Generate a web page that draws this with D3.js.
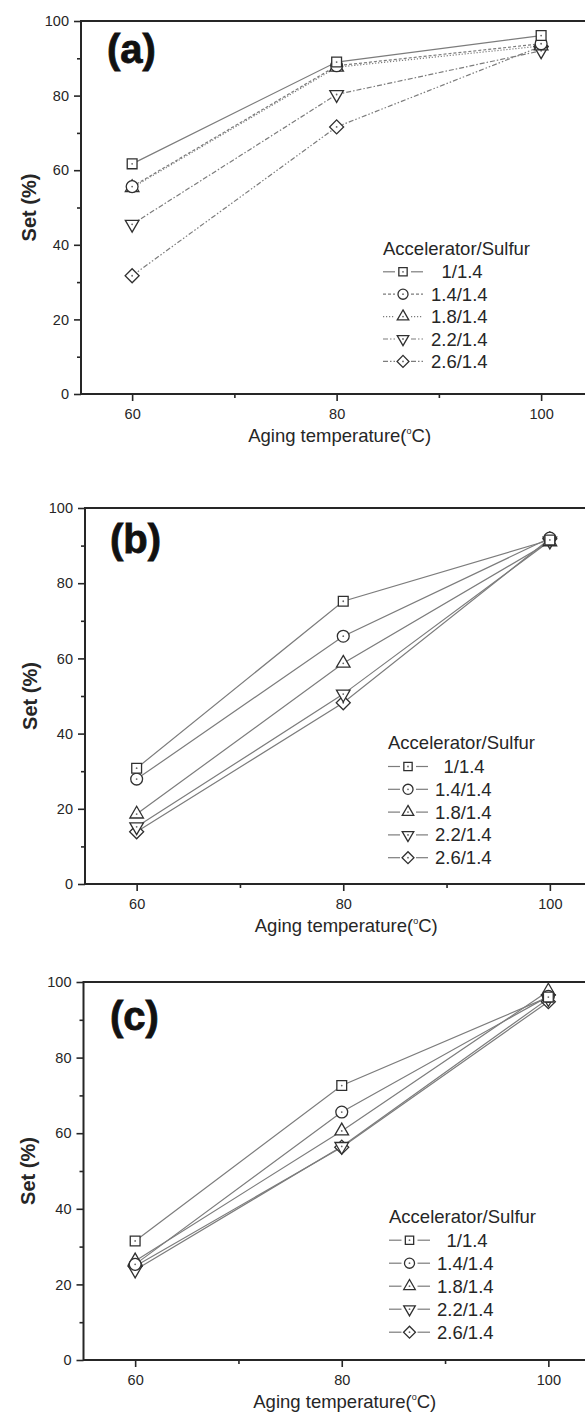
<!DOCTYPE html>
<html>
<head>
<meta charset="utf-8">
<script src="https://cdn.jsdelivr.net/npm/d3@7/dist/d3.min.js"></script>
<style>
  html, body { margin: 0; padding: 0; background: #fff; }
  svg { display: block; font-family: "Liberation Sans", Arial, sans-serif; }
</style>
</head>
<body>
<svg id="fig" width="585" height="1418"></svg>
<script>
// Aging temperature (°C) on the x axis
const temperatures = [60, 80, 100];
// Accelerator/Sulfur ratios, one series per ratio
const ratios = ["1/1.4", "1.4/1.4", "1.8/1.4", "2.2/1.4", "2.6/1.4"];

// Set (%) per ratio at 60, 80, 100 °C
const setA = [
  [61.7, 89.0, 96.1],
  [55.6, 88.0, 93.9],
  [55.3, 87.6, 93.3],
  [45.5, 80.3, 92.0],
  [31.7, 71.6, 93.2]
];
const setB = [
  [30.8, 75.2, 91.5],
  [27.9, 65.9, 92.0],
  [18.6, 58.7, 91.0],
  [15.2, 50.5, 91.2],
  [13.9, 48.2, 91.8]
];
const setC = [
  [31.5, 72.6, 96.0],
  [25.3, 65.6, 96.2],
  [26.2, 60.6, 97.6],
  [23.8, 56.5, 95.6],
  [24.8, 56.3, 94.8]
];

const panelLabels = ["(a)", "(b)", "(c)"];
const yTicks = [0, 20, 40, 60, 80, 100];
const yMinorTicks = [10, 30, 50, 70, 90];
const xTicks = [60, 80, 100];
const xMinorTicks = [70, 90];
const legendTitle = "Accelerator/Sulfur";
const yTitle = "Set (%)";

// Layout of each panel on the page
const panels = [
  { data: setA, left: 81, unit: 10.225, top: 21, bottom: 394, tag: { x: 107, y: 63 },
    yTitleX: 29, leg: { x: 383, titleY: 255, firstY: 278.3, step: 22.4, lineW: 40, textX: 431, firstTextX: 441.5 },
    dashed: true },
  { data: setB, left: 85, unit: 10.33, top: 508, bottom: 884, tag: { x: 110, y: 553 },
    yTitleX: 30, leg: { x: 388, titleY: 749, firstY: 773, step: 22.8, lineW: 40, textX: 435, firstTextX: 443.5 },
    dashed: false },
  { data: setC, left: 83.5, unit: 10.33, top: 982, bottom: 1360, tag: { x: 110, y: 1030 },
    yTitleX: 28, leg: { x: 389, titleY: 1223, firstY: 1246.7, step: 23, lineW: 41, textX: 437, firstTextX: 446.5 },
    dashed: false }
];

// Line styles of panel (a); panels (b) and (c) use solid lines
const dashStyles = [null, "3,2", "1.2,1.8", "5,2,1.5,2", "5,2,1.5,2,1.5,2"];

const symbolShapes = [
  { type: d3.symbolSquare, size: 96, rot: 0 },
  { type: d3.symbolCircle, size: 110, rot: 0 },
  { type: d3.symbolTriangle, size: 80, rot: 0 },
  { type: d3.symbolTriangle, size: 80, rot: 180 },
  { type: d3.symbolSquare, size: 98, rot: 45 }
];

const ink = "#262626";
const lineGray = "#7c7c7c";
const svg = d3.select("#fig");

function drawMarker(g, i, x, y, scale = 1) {
  const s = symbolShapes[i];
  const m = g.append("g").attr("transform", `translate(${x},${y})`);
  m.append("path")
    .attr("d", d3.symbol().type(s.type).size(s.size * scale * scale)())
    .attr("transform", `rotate(${s.rot})`)
    .attr("fill", "#fff")
    .attr("stroke", "#303030")
    .attr("stroke-width", 1.3);
  m.append("circle").attr("r", 0.9).attr("fill", "#666");
}

panels.forEach((p, pi) => {
  const x = d3.scaleLinear().domain([55, 105]).range([p.left, p.left + 50 * p.unit]);
  const y = d3.scaleLinear().domain([0, 100]).range([p.bottom, p.top]);
  const g = svg.append("g");

  // frame
  g.append("rect")
    .attr("x", x(55)).attr("y", y(100))
    .attr("width", x(105) - x(55)).attr("height", y(0) - y(100))
    .attr("fill", "none").attr("stroke", ink).attr("stroke-width", 2);

  // y axis
  const yAxis = g.append("g").attr("transform", `translate(${x(55)},0)`)
    .call(d3.axisLeft(y).tickValues(yTicks).tickSize(7).tickPadding(5).tickFormat(d3.format("d")));
  yAxis.select(".domain").remove();
  yAxis.selectAll("line").attr("stroke", ink).attr("stroke-width", 1.6);
  yAxis.selectAll("text").attr("font-size", 14.5).attr("fill", ink)
    .attr("font-family", "Liberation Sans, Arial, sans-serif");
  const yMinor = g.append("g").attr("transform", `translate(${x(55)},0)`)
    .call(d3.axisLeft(y).tickValues(yMinorTicks).tickSize(4).tickFormat(""));
  yMinor.select(".domain").remove();
  yMinor.selectAll("line").attr("stroke", ink).attr("stroke-width", 1.6);

  // x axis
  const xAxis = g.append("g").attr("transform", `translate(0,${y(0)})`)
    .call(d3.axisBottom(x).tickValues(xTicks).tickSize(7).tickPadding(0).tickFormat(d3.format("d")));
  xAxis.select(".domain").remove();
  xAxis.selectAll("line").attr("stroke", ink).attr("stroke-width", 1.6);
  xAxis.selectAll("text").attr("font-size", 14.5).attr("fill", ink)
    .attr("y", 25).attr("dy", null)
    .attr("font-family", "Liberation Sans, Arial, sans-serif");
  const xMinor = g.append("g").attr("transform", `translate(0,${y(0)})`)
    .call(d3.axisBottom(x).tickValues(xMinorTicks).tickSize(4).tickFormat(""));
  xMinor.select(".domain").remove();
  xMinor.selectAll("line").attr("stroke", ink).attr("stroke-width", 1.6);

  // axis titles
  const xt = g.append("text")
    .attr("x", x(80) + 3).attr("y", y(0) + 48)
    .attr("text-anchor", "middle").attr("font-size", 18.5).attr("fill", ink);
  xt.append("tspan").text("Aging temperature(");
  xt.append("tspan").text("o").attr("font-size", 9).attr("dy", -8);
  xt.append("tspan").text("C)").attr("dy", 8);

  g.append("text")
    .attr("transform", `translate(${p.yTitleX},${(y(0) + y(100)) / 2}) rotate(-90)`)
    .attr("text-anchor", "middle").attr("dominant-baseline", "central")
    .attr("font-size", 20).attr("font-weight", "bold").attr("fill", ink)
    .text(yTitle);

  // panel tag
  g.append("text")
    .attr("x", p.tag.x).attr("y", p.tag.y)
    .attr("font-size", 40).attr("font-weight", "bold")
    .attr("fill", "#111").attr("stroke", "#111").attr("stroke-width", 0.8)
    .text(panelLabels[pi]);

  // series lines
  const line = d3.line().x((d, k) => x(temperatures[k])).y(d => y(d));
  p.data.forEach((vals, si) => {
    g.append("path")
      .attr("d", line(vals))
      .attr("fill", "none")
      .attr("stroke", lineGray)
      .attr("stroke-width", 1.2)
      .attr("stroke-dasharray", p.dashed ? dashStyles[si] : null);
  });
  // markers drawn last series first so the first series stays on top
  for (let si = p.data.length - 1; si >= 0; si--) {
    p.data[si].forEach((v, k) => drawMarker(g, si, x(temperatures[k]), y(v)));
  }

  // legend: short line on each side of the symbol, then the ratio
  const L = p.leg;
  g.append("text").attr("x", L.x).attr("y", L.titleY)
    .attr("font-size", 18.5).attr("fill", ink).text(legendTitle);
  ratios.forEach((r, si) => {
    const base = L.firstY + si * L.step;
    const cy = base - 6.5;
    const cx = L.x + L.lineW / 2;
    [[L.x, cx - 8], [cx + 8, L.x + L.lineW]].forEach(([a, b]) => {
      g.append("line")
        .attr("x1", a).attr("x2", b)
        .attr("y1", cy).attr("y2", cy)
        .attr("stroke", lineGray).attr("stroke-width", 1.2)
        .attr("stroke-dasharray", p.dashed ? dashStyles[si] : null);
    });
    drawMarker(g, si, cx, cy, 0.85);
    g.append("text")
      .attr("x", si === 0 ? L.firstTextX : L.textX).attr("y", base)
      .attr("font-size", 18.5).attr("fill", ink).text(r);
  });
});
</script>
</body>
</html>
